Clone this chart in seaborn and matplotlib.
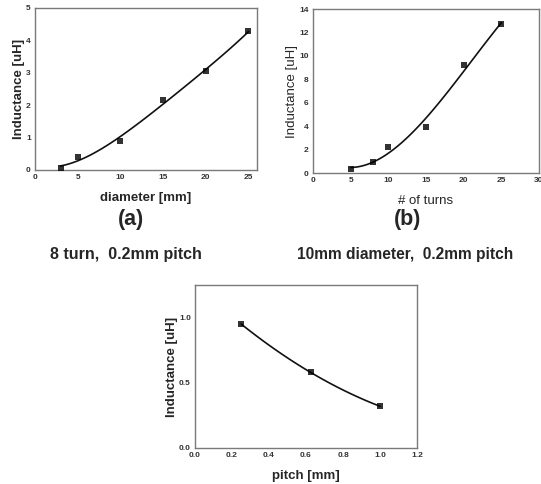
import matplotlib
matplotlib.use("Agg")
import matplotlib.pyplot as plt
from matplotlib.ticker import MultipleLocator, FormatStrFormatter
import seaborn as sns
import pandas as pd

sns.set_style("white")
plt.rcParams["font.family"] = ["Liberation Sans", "DejaVu Sans"]

# Inductance vs coil diameter (8 turns, 0.2 mm pitch)
diameter_mm = [3, 5, 10, 15, 20, 25]
inductance_a = [0.07, 0.40, 0.90, 2.15, 3.05, 4.28]

# Inductance vs number of turns (10 mm diameter, 0.2 mm pitch)
turns = [5, 8, 10, 15, 20, 25]
inductance_b = [0.35, 0.90, 2.25, 3.90, 9.20, 12.70]

# Inductance vs pitch
pitch_mm = [0.25, 0.625, 1.0]
inductance_c = [0.95, 0.58, 0.32]

W, H = 541, 484
fig = plt.figure(figsize=(W / 100, H / 100), dpi=100)


def px_axes(left, top, right, bottom):
    return fig.add_axes([left / W, (H - bottom) / H, (right - left) / W, (bottom - top) / H])


def style(ax, xlim, ylim, xmaj, xmin, ymaj, ymin, fmt=None):
    ax.set_xlim(*xlim)
    ax.set_ylim(*ylim)
    ax.xaxis.set_major_locator(MultipleLocator(xmaj))
    ax.xaxis.set_minor_locator(MultipleLocator(xmin))
    ax.yaxis.set_major_locator(MultipleLocator(ymaj))
    ax.yaxis.set_minor_locator(MultipleLocator(ymin))
    if fmt:
        ax.xaxis.set_major_formatter(FormatStrFormatter(fmt))
        ax.yaxis.set_major_formatter(FormatStrFormatter(fmt))
    for s in ax.spines.values():
        s.set_color("#7a7a7a")
        s.set_linewidth(1.0)
    ax.tick_params(which="both", direction="in", colors="#7a7a7a",
                   labelcolor="#333333", labelsize=6, pad=3)
    ax.tick_params(which="major", length=3, width=0.8)
    ax.tick_params(which="minor", length=1.5, width=0.6)
    for lbl in ax.get_xticklabels() + ax.get_yticklabels():
        lbl.set_fontweight("bold")


def panel(ax, x, y, order, xlabel, ylabel, bold_labels=True):
    df = pd.DataFrame({"x": x, "y": y})
    sns.regplot(data=df, x="x", y="y", order=order, ci=None, ax=ax,
                marker="s", color="black",
                scatter_kws={"s": 14, "linewidths": 0, "zorder": 3},
                line_kws={"linewidth": 1.2, "color": "#111111"})
    w = "bold" if bold_labels else "normal"
    ax.set_xlabel(xlabel, fontsize=9.5, fontweight=w, labelpad=8)
    ax.set_ylabel(ylabel, fontsize=9.5, fontweight=w, labelpad=1)


ax_a = px_axes(35, 8, 257, 170)
panel(ax_a, diameter_mm, inductance_a, 4, "diameter [mm]", "Inductance [uH]")
style(ax_a, (0, 26), (0, 5), 5, 2.5, 1, 0.5)

ax_b = px_axes(313, 9, 539, 173)
panel(ax_b, turns, inductance_b, 3, "# of turns", "Inductance [uH]", bold_labels=False)
style(ax_b, (0, 30), (0, 14), 5, 2.5, 2, 1)

ax_c = px_axes(195, 285, 417, 448)
panel(ax_c, pitch_mm, inductance_c, 2, "pitch [mm]", "Inductance [uH]")
style(ax_c, (0, 1.2), (0, 1.25), 0.2, 0.1, 0.5, 0.25, fmt="%.1f")

fig.text(131 / W, 1 - 219 / H, "(a)", ha="center", va="center", fontsize=15.5, fontweight="bold")
fig.text(408 / W, 1 - 219 / H, "(b)", ha="center", va="center", fontsize=15.5, fontweight="bold")
fig.text(126 / W, 1 - 255 / H, "8 turn,  0.2mm pitch", ha="center", va="center",
         fontsize=11.5, fontweight="bold")
fig.text(405 / W, 1 - 255 / H, "10mm diameter,  0.2mm pitch", ha="center", va="center",
         fontsize=11.2, fontweight="bold")

fig.savefig("out.png", dpi=100, facecolor="white")
